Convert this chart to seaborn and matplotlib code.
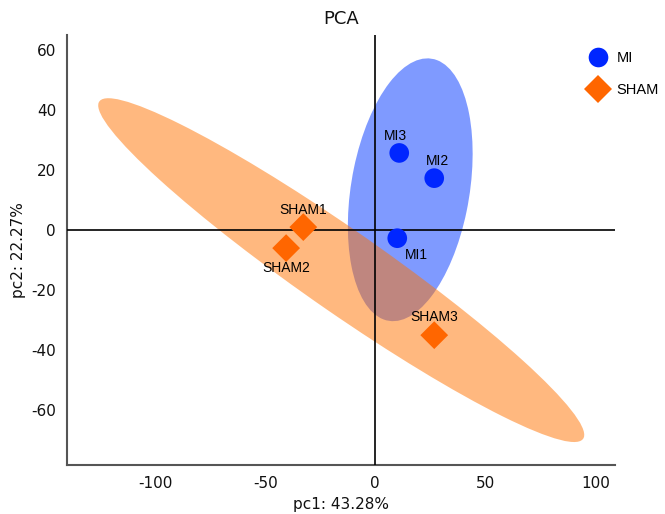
import matplotlib
matplotlib.use('Agg')
import matplotlib.pyplot as plt
from matplotlib.patches import Ellipse
import numpy as np
import pandas as pd
import seaborn as sns

# PCA scores
samples = ['MI1', 'MI2', 'MI3', 'SHAM1', 'SHAM2', 'SHAM3']
groups = ['MI', 'MI', 'MI', 'SHAM', 'SHAM', 'SHAM']
pc1 = [10.0, 26.8, 10.9, -32.7, -40.5, 26.8]
pc2 = [-2.7, 17.3, 25.7, 1.0, -6.0, -35.0]

df = pd.DataFrame({'sample': samples, 'group': groups, 'pc1': pc1, 'pc2': pc2})

point_colors = {'MI': '#0026ff', 'SHAM': '#ff6600'}
fill_colors = {'MI': '#0037ff', 'SHAM': '#ff7300'}
markers = {'MI': 'o', 'SHAM': 'D'}

sns.set_style('white')
plt.rcParams['axes.unicode_minus'] = False
fig = plt.figure(figsize=(6.65, 5.14), dpi=100)
ax = fig.add_axes([0.101, 0.095, 0.824, 0.837])


def add_ellipse(ax, x, y, color, k=3.0, z=1):
    cov = np.cov(x, y)
    vals, vecs = np.linalg.eigh(cov)
    order = vals.argsort()[::-1]
    vals, vecs = vals[order], vecs[:, order]
    angle = np.degrees(np.arctan2(vecs[1, 0], vecs[0, 0]))
    w, h = 2 * k * np.sqrt(vals)
    e = Ellipse((np.mean(x), np.mean(y)), w, h, angle=angle,
                facecolor=color, edgecolor='none', alpha=0.5, zorder=z)
    ax.add_patch(e)


for i, g in enumerate(['MI', 'SHAM']):
    sub = df[df['group'] == g]
    add_ellipse(ax, sub['pc1'].values, sub['pc2'].values, fill_colors[g], z=1 + i)

ax.axhline(0, color='black', linewidth=1.2, zorder=3)
ax.axvline(0, color='black', linewidth=1.2, zorder=3)

sns.scatterplot(data=df, x='pc1', y='pc2', hue='group', style='group',
                palette=point_colors, markers=markers, s=200,
                edgecolor='none', linewidth=0, ax=ax, zorder=4)

# sample labels
offsets = {'MI1': (14, -12), 'MI2': (2, 12), 'MI3': (-3, 12), 'SHAM1': (0, 12),
           'SHAM2': (0, -14), 'SHAM3': (0, 13)}
for s, x, y in zip(samples, pc1, pc2):
    ax.annotate(s, (x, y), xytext=offsets[s], textcoords='offset points',
                ha='center', va='center', fontsize=10, color='black',
                family='Liberation Sans', zorder=5)

ax.set_xlim(-140, 109)
ax.set_ylim(-78.3, 65)
ax.set_xticks([-100, -50, 0, 50, 100])
ax.set_yticks([-60, -40, -20, 0, 20, 40, 60])
ax.tick_params(labelsize=11, length=0, pad=8, labelcolor='#111111')
ax.set_xlabel('pc1: 43.28%', fontsize=11, labelpad=4, color='#111111')
ax.set_ylabel('pc2: 22.27%', fontsize=11, labelpad=4, color='#111111')
ax.set_title('PCA', fontsize=13, pad=8, color='#111111')

for side in ['top', 'right']:
    ax.spines[side].set_visible(False)
for side in ['left', 'bottom']:
    ax.spines[side].set_color('#555555')
    ax.spines[side].set_linewidth(1.5)

sns.move_legend(ax, 'upper left', bbox_to_anchor=(0.866, 0.926),
                bbox_transform=fig.transFigure, frameon=False, title=None,
                markerscale=1.0, handlelength=1.2, handletextpad=0.7,
                labelspacing=1.2,
                prop={'family': 'Liberation Sans', 'size': 10.5})
for t in ax.get_legend().get_texts():
    t.set_color('black')

fig.savefig('out.png', dpi=100)
